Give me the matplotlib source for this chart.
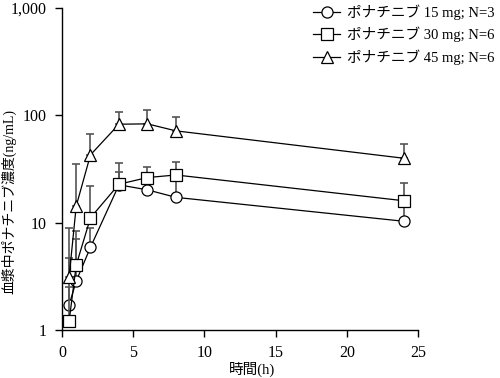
import matplotlib
matplotlib.use("Agg")
import matplotlib.pyplot as plt
import numpy as np

times = [0.5, 1, 2, 4, 6, 8, 24]
labels = ["ポナチニブ 15 mg; N=3", "ポナチニブ 30 mg; N=6", "ポナチニブ 45 mg; N=6"]
mean_15 = [1.71, 2.86, 5.9, 22.5, 20.2, 17.2, 10.3]
upper_15 = [2.5, 7.0, 9.0, 29.9, 24.0, 26.0, 14.0]
mean_30 = [1.21, 4.03, 11.1, 22.8, 26.3, 27.8, 16.0]
upper_30 = [4.7, 8.4, 22.0, 35.7, 33.3, 37.0, 23.3]
mean_45 = [3.14, 14.3, 42.8, 82.6, 83.2, 71.6, 39.8]
upper_45 = [8.9, 35.0, 66.7, 108.0, 112.0, 97.0, 54.0]
xticks = [0, 5, 10, 15, 20, 25]
yticks = [1, 10, 100, 1000]
ytick_labels = ["1", "10", "100", "1,000"]
xlabel = "時間(h)"
ylabel = "血漿中ポナチニブ濃度(ng/mL)"

fam = ["Liberation Serif", "Noto Sans CJK JP"]
plt.rcParams['font.family'] = fam

fig = plt.figure(figsize=(5.0, 3.78), dpi=100)
ax = fig.add_axes([0.124, 0.127, 0.712, 0.852])

series = [(mean_15, upper_15, "o", 1), (mean_30, upper_30, "s", 2), (mean_45, upper_45, "^", 3)]
handles = []
for (m, u, mk, z), lab in zip(series, labels):
    m = np.array(m); u = np.array(u)
    ax.errorbar(times, m, yerr=[np.zeros_like(m), u - m], fmt="none",
                ecolor="#555555", elinewidth=1.2, capsize=3, capthick=1.2, zorder=z)
    h, = ax.plot(times, m, marker=mk, color="black", lw=0.9, markersize=8,
                 markerfacecolor="white", markeredgecolor="black", markeredgewidth=0.9,
                 label=lab, zorder=z + 0.5)
    handles.append(h)

ax.set_yscale("log")
ax.set_ylim(1, 1000)
ax.set_xlim(0, 25)
ax.set_xticks(xticks)
ax.set_xticklabels([str(x) for x in xticks], fontsize=11.5)
ax.set_yticks(yticks)
ax.set_yticklabels(ytick_labels, fontsize=11.5)
ax.yaxis.set_minor_locator(matplotlib.ticker.NullLocator())
ax.tick_params(direction="out", length=5, width=1)
ax.tick_params(axis="x", pad=6)
ax.tick_params(axis="y", pad=6)
for s in ["top", "right"]:
    ax.spines[s].set_visible(False)
for s in ["left", "bottom"]:
    ax.spines[s].set_linewidth(1)

ax.set_xlabel(xlabel, fontsize=10.5)
ax.xaxis.set_label_coords(0.534, -0.1)
ax.set_ylabel(ylabel, fontsize=10)
ax.yaxis.set_label_coords(-0.128, 0.40)

leg = ax.legend(handles=handles, loc="upper left", bbox_to_anchor=(0.69, 1.03),
                frameon=False, fontsize=10.5, handlelength=1.8, handletextpad=0.5,
                labelspacing=0.5, borderaxespad=0)

fig.savefig("out.png", dpi=100)
